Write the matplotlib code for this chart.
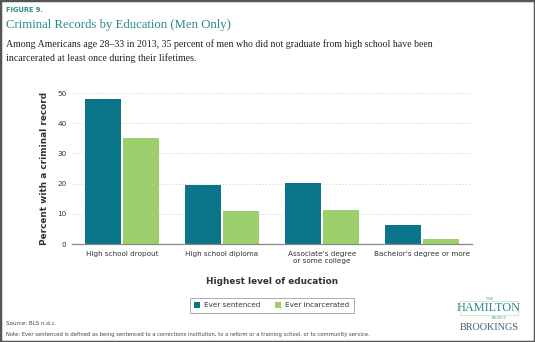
import matplotlib
matplotlib.use('Agg')
import matplotlib.pyplot as plt
import matplotlib.patches as patches
import numpy as np

# DATA
categories = ['High school dropout', 'High school diploma',
              "Associate's degree\nor some college", "Bachelor's degree or more"]
ever_sentenced = [48.0, 19.5, 20.3, 6.2]
ever_incarcerated = [35.2, 10.8, 11.1, 1.5]
yticks = [0, 10, 20, 30, 40, 50]

TEAL = '#0a7488'
GREEN = '#9dcf6c'
TITLE_TEAL = '#2b8a85'
TEXT = '#333333'

fig = plt.figure(figsize=(5.35, 3.42), dpi=100)
fig.patch.set_facecolor('white')

# border round the figure
fig.patches.append(patches.Rectangle((0, 0), 1, 1, transform=fig.transFigure,
                                     fill=False, edgecolor='#555555', lw=2.5))

fig.text(0.011, 0.972, 'FIGURE 9.', fontsize=4.8, fontweight='bold',
         color=TITLE_TEAL, family='DejaVu Sans', va='center')
fig.text(0.011, 0.928, 'Criminal Records by Education (Men Only)', fontsize=9.2,
         color=TITLE_TEAL, family='Liberation Serif', va='center')
fig.text(0.011, 0.85,
         'Among Americans age 28\u201333 in 2013, 35 percent of men who did not graduate from high school have been\n'
         'incarcerated at least once during their lifetimes.',
         fontsize=7.1, color='#222222', family='Liberation Serif', va='center',
         linespacing=1.6)

ax = fig.add_axes([0.1346, 0.2865, 0.7477, 0.4415])
x = np.arange(len(categories))
w = 0.36
ax.bar(x - 0.19, ever_sentenced, w, color=TEAL, label='Ever sentenced', zorder=3)
ax.bar(x + 0.19, ever_incarcerated, w, color=GREEN, label='Ever incarcerated', zorder=3)

ax.set_xlim(-0.5, 3.5)
ax.set_ylim(0, 50)
ax.set_yticks(yticks)
ax.set_xticks(x)
ax.set_xticklabels(categories, fontsize=5.2, color=TEXT, linespacing=1.3)
ax.tick_params(axis='y', labelsize=5.2, labelcolor=TEXT, length=0, pad=4)
ax.tick_params(axis='x', length=0, pad=5)
for s in ['top', 'right', 'left']:
    ax.spines[s].set_visible(False)
ax.spines['bottom'].set_color('#888888')
ax.spines['bottom'].set_linewidth(0.9)
ax.spines['bottom'].set_zorder(4)
for t in yticks[1:]:
    ax.axhline(t, color='#cccccc', lw=0.6, ls=(0, (1.5, 2.5)), zorder=1, clip_on=False)

ax.set_ylabel('Percent with a criminal record', fontsize=6.4, fontweight='bold',
              color=TEXT, labelpad=6)
ax.set_xlabel('Highest level of education', fontsize=6.4, fontweight='bold',
              color=TEXT, labelpad=9)

leg = ax.legend(loc='center', bbox_to_anchor=(0.5, -0.405), ncol=2, fontsize=5.2,
                frameon=True, fancybox=False, edgecolor='#888888',
                handlelength=0.8, handleheight=0.8, columnspacing=2.0,
                handletextpad=0.6, borderpad=0.6)
leg.get_frame().set_linewidth(0.6)
for t in leg.get_texts():
    t.set_color(TEXT)

fig.text(0.011, 0.055, 'Source: BLS n.d.c.', fontsize=4.1, color='#444444', va='center')
fig.text(0.011, 0.022,
         'Note: Ever sentenced is defined as being sentenced to a corrections institution, '
         'to a reform or a training school, or to community service.',
         fontsize=3.8, color='#444444', va='center')

# logo
lx = 0.914
fig.text(lx, 0.127, 'THE', fontsize=2.6, color=TITLE_TEAL, family='Liberation Serif',
         ha='center', va='center')
fig.text(lx, 0.099, 'HAMILTON', fontsize=8.8, color=TITLE_TEAL, family='Liberation Serif',
         ha='center', va='center')
fig.text(lx + 0.02, 0.069, 'PROJECT', fontsize=2.6, color=TITLE_TEAL, family='Liberation Serif',
         ha='center', va='center')
fig.patches.append(patches.Rectangle((lx - 0.055, 0.078), 0.11, 0.043, transform=fig.transFigure,
                                     fill=False, edgecolor='#cfe3c9', lw=0.6))
fig.text(lx, 0.042, 'BROOKINGS', fontsize=7.4, color='#3d5f7e', family='Liberation Serif',
         ha='center', va='center')

fig.savefig('out.png', dpi=100, facecolor='white')
